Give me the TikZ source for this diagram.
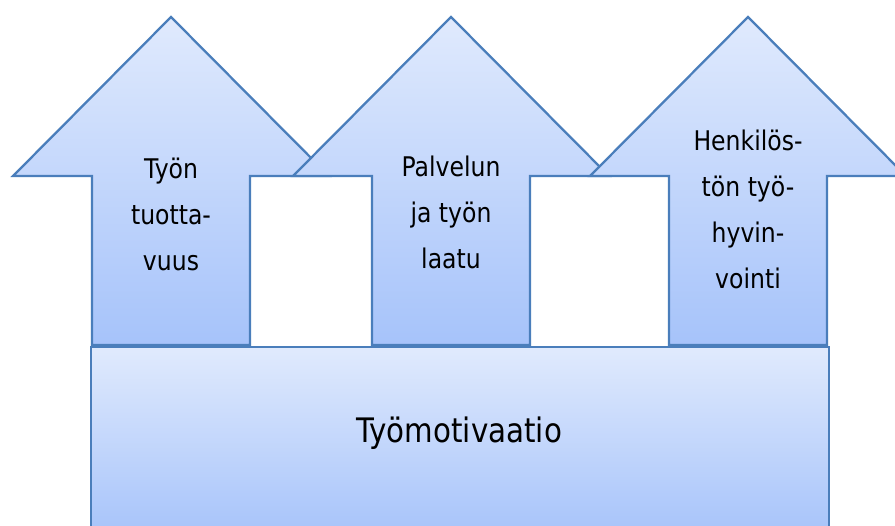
\documentclass[tikz,border=0pt]{standalone}
\usepackage{fontspec}
\setmainfont{DejaVu Sans}[FakeStretch=0.87]
\usepackage{tikz}

\definecolor{edgeblue}{HTML}{4A7EBB}
\definecolor{fillhigh}{HTML}{E0EAFD}
\definecolor{filllow}{HTML}{A6C3FA}

\begin{document}
\begin{tikzpicture}[
  x=0.02cm, y=-0.02cm,
  upblock/.style={draw=edgeblue, line width=1.3pt, top color=fillhigh,
                  bottom color=filllow},
  pillar/.style={align=center, anchor=base, inner sep=0pt,
                 font=\fontsize{15.4}{26.1}\selectfont},
  groundtext/.style={anchor=base, inner sep=0pt,
                     font=\fontsize{19.2}{22}\selectfont},
]
\useasboundingbox (0,0) rectangle (895,525);
\clip (0,0) rectangle (895,525);

% Three upward arrows, later ones overlap the earlier heads
\foreach \cx in {171,451,748} {
  \draw[upblock] (\cx,17) -- (\cx+158,176) -- (\cx+79,176) -- (\cx+79,345)
    -- (\cx-79,345) -- (\cx-79,176) -- (\cx-158,176) -- cycle;
}

% Arrow labels (base = last line)
\node[pillar] (tuottavuus) at (171,270) {Työn\\tuotta-\\vuus};
\node[pillar] (laatu) at (451,268) {Palvelun\\ja työn\\laatu};
\node[pillar] (hyvinvointi) at (748,288) {Henkilös-\\tön työ-\\hyvin-\\vointi};

% Foundation block
\node[upblock, minimum width=14.76cm, minimum height=3.8cm,
      anchor=north west, inner sep=0pt] (pohja) at (90,346) {};
\node[groundtext] (motivaatio) at (459,442) {Työmotivaatio};

\end{tikzpicture}
\end{document}
